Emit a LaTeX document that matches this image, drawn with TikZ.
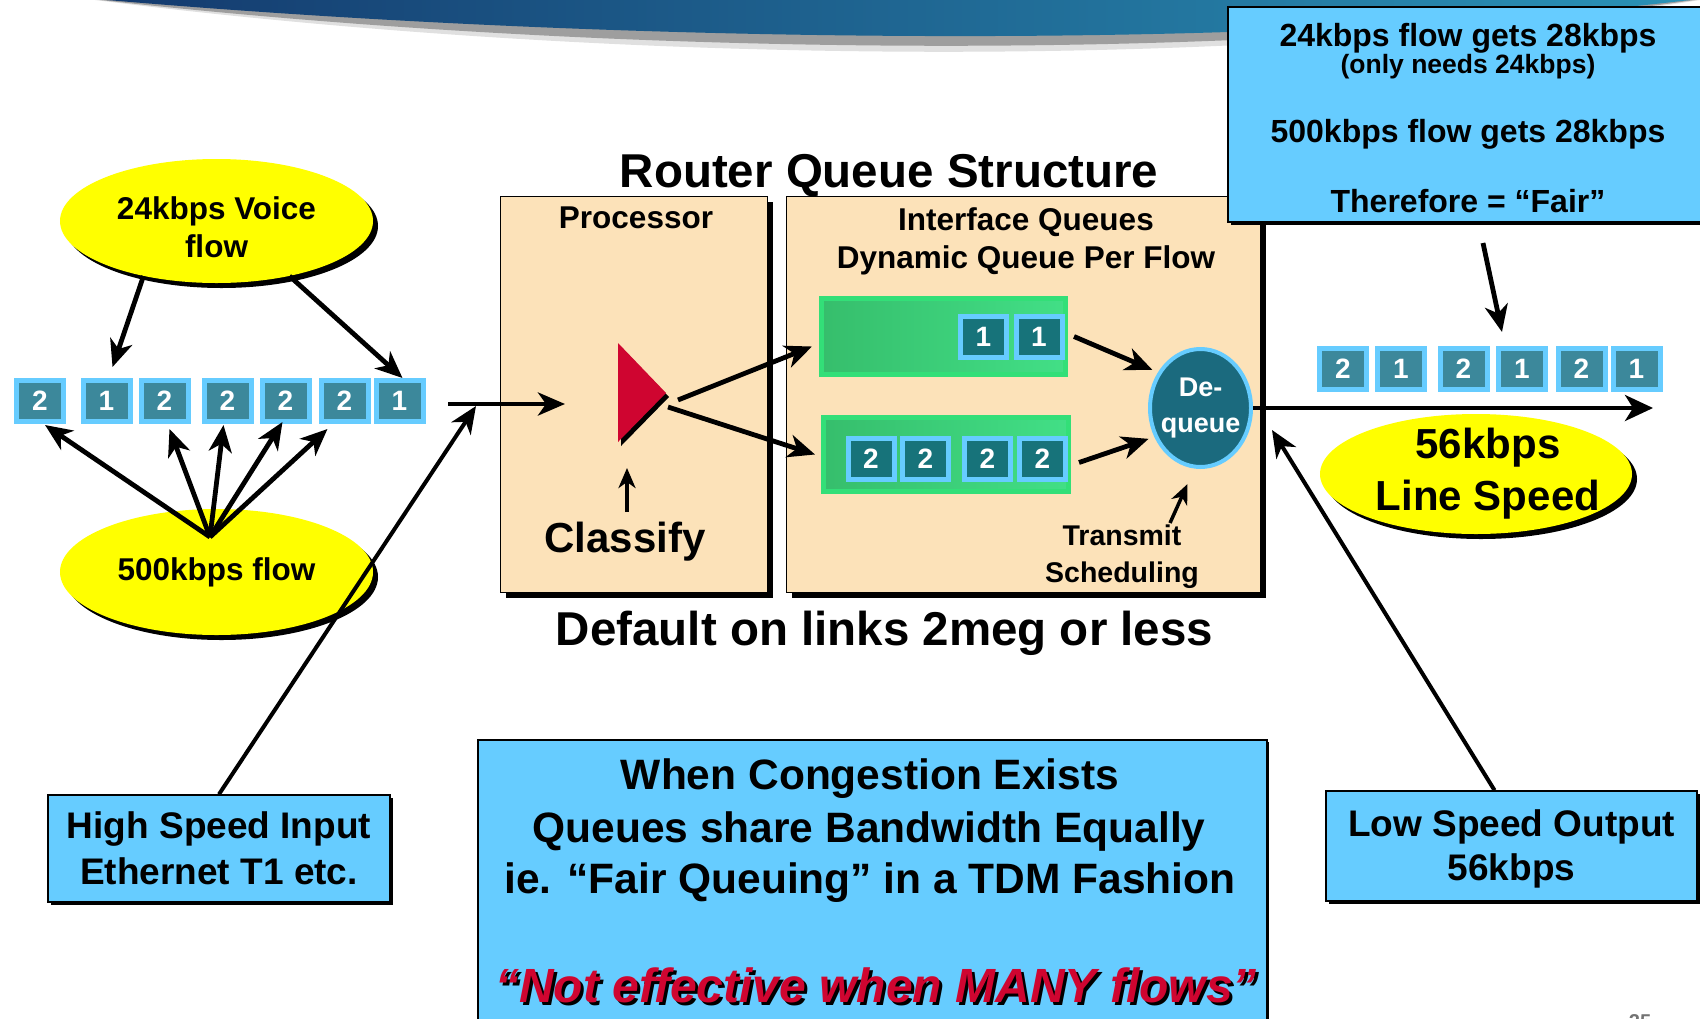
\documentclass[tikz,border=0pt]{standalone}
\usepackage{fontspec}
\setmainfont{Liberation Sans}
\usetikzlibrary{arrows.meta,shapes.geometric,calc,shadows}
\definecolor{ltblue}{HTML}{66CCFF}
\definecolor{tanbg}{RGB}{252,226,185}
\definecolor{pkteal}{HTML}{3C889B}
\definecolor{qteal}{HTML}{17737A}
\definecolor{deqteal}{HTML}{1B6A7E}
\definecolor{qgreen}{HTML}{33DF78}
\definecolor{qgreendk}{HTML}{36BE6C}
\definecolor{qgreenlt}{HTML}{42DF86}
\definecolor{crim}{HTML}{CF0530}
\definecolor{ylw}{HTML}{FFFF00}
\definecolor{bnL}{HTML}{143A6E}
\definecolor{bnR}{HTML}{2A92B6}
\newcommand\myfs[2]{\fontsize{#1}{#2}\selectfont}
\newcommand\redshadow[1]{\leavevmode\rlap{\kern3pt\raisebox{-3pt}{\color{black}#1}}#1}
\begin{document}
\begin{tikzpicture}[x=1pt,y=-1pt,font=\bfseries,
  pkt/.style={draw=ltblue,line width=5pt,fill=pkteal,minimum width=47pt,minimum height=41pt,inner sep=0pt,text=white,font=\bfseries\myfs{28}{30}},
  qpkt/.style={pkt,fill=qteal,minimum width=46pt},
  arr/.style={line width=4.8pt,-{Stealth[length=27pt,width=23pt,inset=8pt]}},
  arrs/.style={line width=3.5pt,-{Stealth[length=20pt,width=17pt,inset=6pt]}},
  blkshadow/.style={drop shadow={shadow xshift=#1,shadow yshift=-#1,fill=black,opacity=1}},
  yell/.style={ellipse,fill=ylw,inner sep=0pt,align=center,blkshadow=5pt},
  tanbox/.style={rectangle,draw=black,line width=1.5pt,fill=tanbg,inner sep=0pt,blkshadow=5pt},
  bluebox/.style={rectangle,draw=black,line width=1.5pt,fill=ltblue,inner sep=0pt,align=center,blkshadow=2.5pt},
  queue/.style={rectangle,draw=qgreen,line width=5pt,inner sep=0pt,left color=qgreendk,right color=qgreenlt},
  lbl/.style={anchor=base,inner sep=0pt}]
\useasboundingbox (0,0) rectangle (1700,1018);
\fill[white] (0,0) rectangle (1700,1018);
% banner
\fill[black!12] (95,0) .. controls (620,66) and (1250,72) .. (1700,0) -- cycle;
\fill[black!38] (100,0) .. controls (620,58) and (1250,64) .. (1695,0) -- cycle;
\shade[left color=bnL,right color=bnR] (107,0) .. controls (620,44) and (1250,52) .. (1690,0) -- cycle;

% router boxes
\node[tanbox,minimum width=267pt,minimum height=396pt] (proc) at (634,394.5) {};
\node[tanbox,minimum width=474pt,minimum height=396pt] (iface) at (1023.5,394.5) {};
\node[lbl,font=\bfseries\myfs{47.5}{50}] (title) at (889,187) {Router Queue Structure};
\node[lbl,font=\bfseries\myfs{31.5}{36}] (proclbl) at (636,228) {Processor};
\node[lbl,font=\bfseries\myfs{31.5}{36}] (iflbl1) at (1026,230) {Interface Queues};
\node[lbl,font=\bfseries\myfs{31.5}{36}] (iflbl2) at (1026,268) {Dynamic Queue Per Flow};
\node[lbl,font=\bfseries\myfs{42}{46}] (cls) at (625,552) {Classify};
\node[lbl,font=\bfseries\myfs{28.5}{32}] (trans) at (1122,545) {Transmit};
\node[lbl,font=\bfseries\myfs{28.5}{32}] (sched) at (1122,582) {Scheduling};
\node[lbl,font=\bfseries\myfs{47.5}{50}] (dflt) at (884.5,645) {Default on links 2meg or less};

% classifier triangle
\coordinate (triA) at (618,343);
\coordinate (tri) at (666,393);
\coordinate (triC) at (618,442);
\fill[black] ($(triA)+(3,4)$) -- ($(tri)+(3,4)$) -- ($(triC)+(3,4)$) -- cycle;
\fill[crim] (triA) -- (tri) -- (triC) -- cycle;

% queues
\node[queue,minimum width=244pt,minimum height=76pt] (q1) at (943.5,336.5) {};
\node[queue,minimum width=245pt,minimum height=74pt] (q2) at (946,454.5) {};
\node[qpkt] (a1) at (983.5,337) {1};
\node[qpkt] (a2) at (1039,337) {1};
\node[qpkt] (b1) at (871,459) {2};
\node[qpkt] (b2) at (925.5,459) {2};
\node[qpkt] (b3) at (987.5,459) {2};
\node[qpkt] (b4) at (1042.5,459) {2};
\node[ellipse,draw=ltblue,line width=4pt,fill=deqteal,minimum width=101pt,minimum height=118pt,inner sep=0pt,
  label={[name=deqtxt,align=center,text=white,font=\bfseries\myfs{27}{36}]center:De-\\queue}] (deq) at (1200.5,408) {};

% top right box
\node[bluebox,minimum width=482pt,minimum height=215pt] (fair) at (1469,114.5) {};
\node[lbl,font=\bfseries\myfs{32}{36}] (f1) at (1468,46) {24kbps flow gets 28kbps};
\node[lbl,font=\bfseries\myfs{26.5}{30}] (f2) at (1468,73) {(only needs 24kbps)};
\node[lbl,font=\bfseries\myfs{32}{36}] (f3) at (1468,142) {500kbps flow gets 28kbps};
\node[lbl,font=\bfseries\myfs{32}{36}] (f4) at (1468,212) {Therefore = “Fair”};

% left side
\node[yell,minimum width=313pt,minimum height=124pt,
  label={[name=voicetxt,yshift=-6pt,align=center,font=\bfseries\myfs{31.5}{38}]center:24kbps Voice\\flow}] (voice) at (216.5,221) {};
\node[yell,minimum width=313pt,minimum height=126pt,
  label={[name=slowtxt,align=center,font=\bfseries\myfs{31.5}{38}]center:500kbps flow}] (slow) at (216.5,572) {};
\node[pkt] (p1) at (40,401) {2};
\node[pkt] (p2) at (106.5,401) {1};
\node[pkt] (p3) at (164.5,401) {2};
\node[pkt] (p4) at (227.5,401) {2};
\node[pkt] (p5) at (285.5,401) {2};
\node[pkt] (p6) at (344.5,401) {2};
\node[pkt] (p7) at (399.5,401) {1};

% right side
\node[pkt] (o1) at (1343,369) {2};
\node[pkt] (o2) at (1401,369) {1};
\node[pkt] (o3) at (1463.5,369) {2};
\node[pkt] (o4) at (1522,369) {1};
\node[pkt] (o5) at (1581.5,369) {2};
\node[pkt] (o6) at (1636.5,369) {1};
\node[yell,minimum width=312pt,minimum height=120pt,
  label={[name=linetxt,xshift=12pt,align=center,font=\bfseries\myfs{42}{52}]center:56kbps\\Line Speed}] (line) at (1476,474) {};

% bottom boxes
\node[bluebox,minimum width=342pt,minimum height=107pt,font=\bfseries\myfs{37}{46}] (hs) at (219,848.5) {High Speed Input\\Ethernet T1 etc.};
\node[bluebox,minimum width=371pt,minimum height=110pt,
  label={[name=lstxt,yshift=-3pt,align=center,font=\bfseries\myfs{37}{44}]center:Low Speed Output\\56kbps}] (ls) at (1511.5,846) {};
\node[bluebox,minimum width=789pt,minimum height=300pt,anchor=north west] (cong) at (477,739) {};
\node[lbl,font=\bfseries\myfs{42.5}{46}] (c1) at (870,789) {When Congestion Exists};
\node[lbl,font=\bfseries\myfs{42.5}{46}] (c2) at (869,842) {Queues share Bandwidth Equally};
\node[lbl,font=\bfseries\myfs{42.5}{46}] (c3) at (870,893) {ie. “Fair Queuing” in a TDM Fashion};
\node[lbl,text=crim,font=\bfseries\itshape\myfs{48}{52}] (c4) at (876,1002) {\redshadow{“Not effective when MANY flows”}};
\node[anchor=north,inner sep=0pt,text=black!55,font=\bfseries\myfs{20}{22}] (pg) at (1640,1014) {25};

% connectors
\coordinate (fan) at (210,537);
\coordinate (inS) at (448,404);
\coordinate (inE) at (565,404);
\coordinate (hsTip) at (476,406);
\coordinate (outE) at (1653,408);
\coordinate (fairS) at (1483,243);
\coordinate (fairTip) at (1502,332);
\coordinate (lsTip) at (1272,430);
\coordinate (clsS) at (627,512);
\coordinate (trS) at (1170,523);

\draw[arr] (voice.217) -- ($(p2.north)+(6,-11)$);
\draw[arr] (voice.323) -- ($(p7.north)+(3,0)$);
\draw[arr] (fan) -- ($(p1.south)+(5,1)$);
\draw[arr] (fan) -- ($(p3.south)+(5,5)$);
\draw[arr] (fan) -- ($(p4.south)+(-4,1)$);
\draw[arr] (fan) -- ($(p5.south)+(-3,-2)$);
\draw[arr] (fan) -- ($(p6.south)+(-17,5)$);
\draw[arr] (inS) -- (inE);
\draw[line width=4pt,-{Stealth[length=27pt,width=23pt,inset=8pt]}] (hs.north) -- (hsTip);
\draw[arr] ($(tri)+(12,7)$) -- ($(q1.west)+(-7,10)$);
\draw[arr] ($(tri)+(2,14)$) -- ($(q2.west)+(-6,0)$);
\draw[arr,shorten >=6pt] ($(q1.east)+(6,0)$) -- (deq.140);
\draw[arr,shorten >=6pt] ($(q2.east)+(8,8)$) -- (deq.212);
\draw[arrs] (clsS) -- ($(triC)+(9,26)$);
\draw[arrs] (trS) -- ($(deq.south)+(-13,15)$);
\draw[line width=4pt,-{Stealth[length=28pt,width=26pt,inset=8pt]}] (deq.east) -- (outE);
\draw[arr] (fairS) -- (fairTip);
\draw[line width=4pt,-{Stealth[length=27pt,width=23pt,inset=8pt]}] ($(ls.north)+(-17,0)$) -- (lsTip);
\end{tikzpicture}
\end{document}
